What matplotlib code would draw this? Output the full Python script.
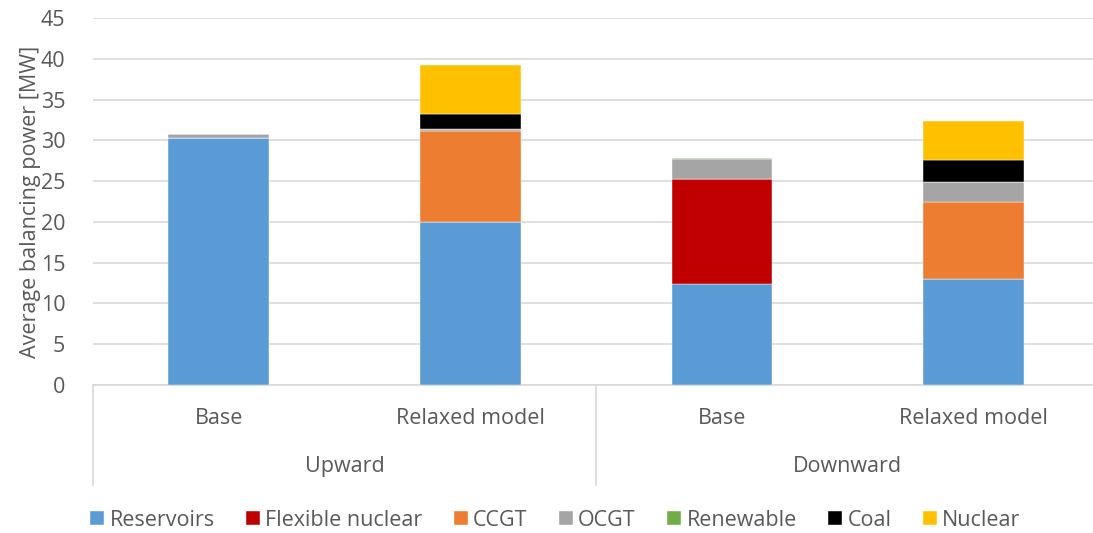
import matplotlib.pyplot as plt
import numpy as np

plt.rcParams['font.family'] = ['Open Sans', 'DejaVu Sans']

bars = ["Base", "Relaxed model", "Base", "Relaxed model"]
groups = ["Upward", "Downward"]
series = ["Reservoirs", "Flexible nuclear", "CCGT", "OCGT", "Renewable", "Coal", "Nuclear"]
colors = ["#5B9BD5", "#C00000", "#ED7D31", "#A5A5A5", "#70AD47", "#000000", "#FFC000"]

reservoirs = [30.3, 20.0, 12.4, 13.0]
flex_nuclear = [0.0, 0.0, 12.85, 0.0]
ccgt = [0.0, 11.2, 0.0, 9.5]
ocgt = [0.45, 0.15, 2.45, 2.4]
renewable = [0.0, 0.0, 0.15, 0.0]
coal = [0.0, 1.85, 0.0, 2.7]
nuclear = [0.0, 6.0, 0.0, 4.8]
values = [reservoirs, flex_nuclear, ccgt, ocgt, renewable, coal, nuclear]

txt = "#595959"
fs = 15.5
fig = plt.figure(figsize=(10.93, 5.33), dpi=100)
W, H = 1093, 533
ax = fig.add_axes([93 / W, 1 - 385 / H, (1099.5 - 93) / W, 367 / H])

x = np.arange(len(bars))
bottom = np.zeros(len(bars))
for name, vals, c in zip(series, values, colors):
    ax.bar(x, vals, 0.4, bottom=bottom, color=c, label=name, edgecolor="white", linewidth=0.3, zorder=3)
    bottom += np.array(vals)

ax.set_xlim(-0.5, 3.5)
ax.set_ylim(0, 45)
ax.set_yticks(range(0, 46, 5))
ax.yaxis.grid(True, color="#D9D9D9", linewidth=1.2, zorder=0)
ax.tick_params(axis="y", length=0, labelsize=fs, labelcolor=txt, pad=20)
ax.set_xticks([])
for s in ["left", "right", "top"]:
    ax.spines[s].set_visible(False)
ax.spines["bottom"].set_color("#D9D9D9")
ax.spines["bottom"].set_linewidth(1.2)
ax.set_ylabel("Average balancing power [MW]", fontsize=fs, color=txt, labelpad=0)

tr = ax.get_xaxis_transform()
for xi, lab in zip(x, bars):
    ax.text(xi, -0.09, lab, transform=tr, ha="center", va="center", fontsize=fs, color=txt)
for gi, g in enumerate(groups):
    ax.text(gi * 2 + 0.5, -0.223, g, transform=tr, ha="center", va="center", fontsize=fs, color=txt)
for xv in [-0.5, 1.5, 3.5]:
    ax.plot([xv, xv], [0, -0.272], transform=tr, color="#D9D9D9", linewidth=1.2, clip_on=False)

fig.legend(loc="center", bbox_to_anchor=(0.508, 1 - 520 / H), ncol=7, frameon=False,
           fontsize=fs, labelcolor=txt, handlelength=0.65, handleheight=0.65,
           handletextpad=0.25, columnspacing=1.45)

fig.savefig("out.png", dpi=100)
